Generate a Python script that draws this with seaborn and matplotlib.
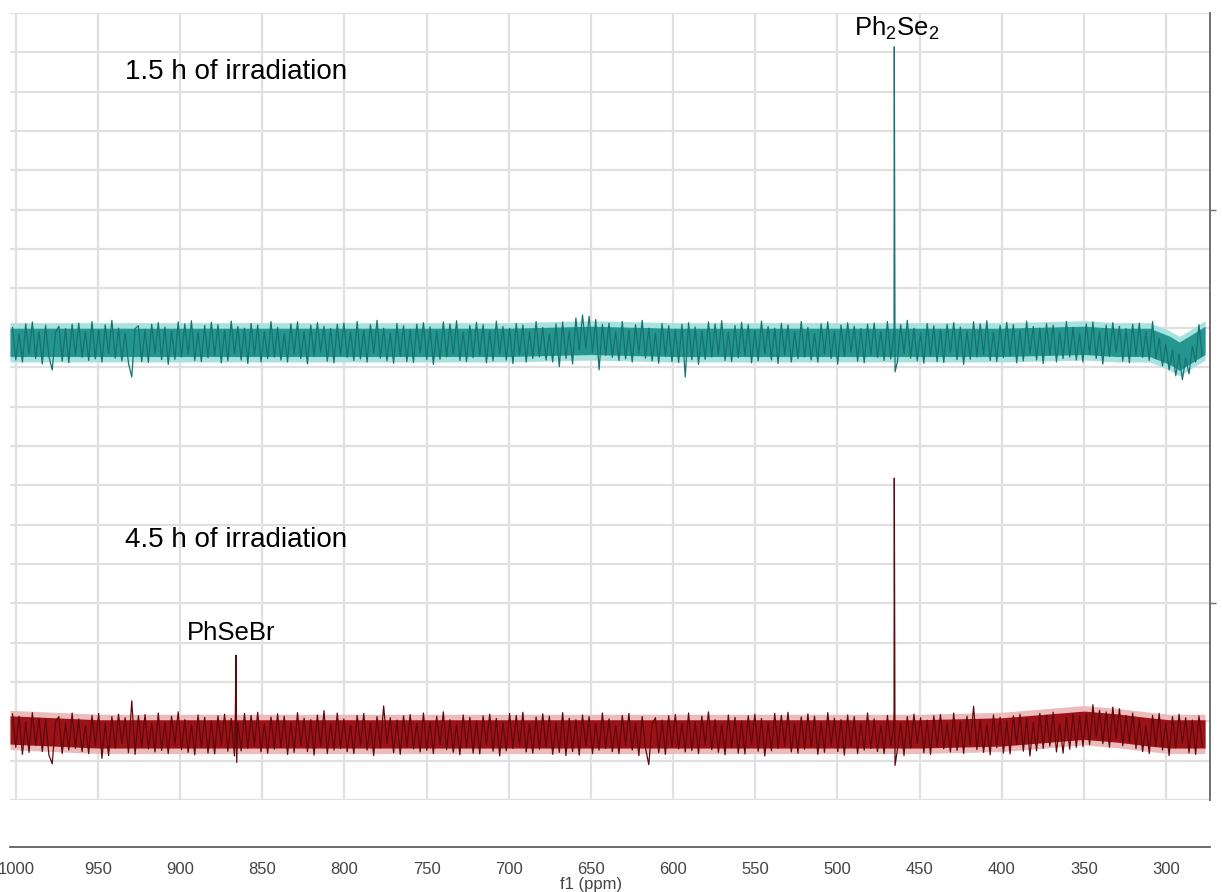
import numpy as np
import pandas as pd
import matplotlib
matplotlib.use("Agg")
import matplotlib.pyplot as plt
import seaborn as sns
from matplotlib.ticker import MultipleLocator

# ---------------- data ----------------
ppm_first, ppm_last = 1002.0, 278.0          # sampled span of both spectra
teal_base = 11.63                            # baseline level, 1.5 h spectrum
red_base = 1.68                              # baseline level, 4.5 h spectrum

# noise excursions around the baseline (hundredths of a grid unit), high ppm -> low ppm
teal_noise = [
    38, -45, 22, -50, 47, -30, 52, -41, 28, -55, 44, -36, -70, 25, 41, -48, 35, -52, 46, -33,
    49, -38, 27, -46, 53, -42, 31, -50, 45, -28, 56, -40, 36, -47, 24, -53, -88, 35, 42, -49,
    33, -51, 46, -27, 50, -44, 39, -56, 29, -43, 52, -37, 47, -31, 55, -46, 26, -49, 43, -39,
    51, -34, 45, -52, 30, -47, 54, -29, 40, -45, 36, -54, 48, -32, 44, -50, 27, -41, 53, -37,
    38, -45, 22, -50, 47, -30, 52, -41, 28, -55, 44, -36, 50, -25, 41, -48, 35, -52, 46, -33,
    49, -38, 27, -46, 53, -42, 31, -50, 45, -28, 56, -40, 36, -47, 24, -53, 48, -35, 42, -49,
    33, -51, 46, -27, 50, -44, 39, -56, 29, -43, 52, -37, 47, -31, 55, -46, 26, -49, 43, -39,
    51, -34, 45, -52, 30, -47, 54, -29, 40, -45, 36, -54, 48, -32, 44, -50, 27, -41, 53, -37,
    38, -45, 22, -50, 47, -62, 52, -41, 28, -55, 62, -20, 70, -15, 66, -25, 58, -70, 46, -33,
    49, -38, 27, -46, 53, -42, 31, -50, 45, -28, 56, -40, 36, -47, 24, -53, 48, -35, 42, -49,
    33, -51, 46, -88, 50, -44, 39, -56, 29, -43, 52, -37, 47, -31, 55, -46, 26, -49, 43, -39,
    51, -34, 45, -52, 30, -47, 54, -29, 40, -45, 36, -54, 48, -32, 44, -50, 27, -41, 53, -37,
    38, -45, 22, -50, 47, -30, 52, -41, 28, -55, 44, -36, 50, -25, 41, -48, 35, -52, 46, -33,
    49, -38, 27, -46, 53, -42, 31, -50, 45, -28, 56, -40, 36, -47, 24, -53, 48, -35, 42, -49,
    33, -51, 46, -27, 50, -44, 39, -56, 29, -43, 52, -37, 47, -31, 55, -46, 26, -49, 43, -39,
    51, -34, 45, -52, 30, -47, 54, -29, 40, -45, 36, -54, 48, -32, 44, -50, 27, -41, 53, -37,
    38, -45, 22, -50, 47, -30, 52, -41, 28, -55, 44, -36, 50, -25, 41, -48, 35, -52, 46, -33,
    49, -38, 27, -46, 53, -42, 10, -60, -5, -70, -20, -85, -30, -95, -40, -80, -10, -50, 45, -35,
]
red_noise = [
    51, -34, 45, -52, 30, -47, 54, -29, 40, -45, 36, -54, -76, 32, 44, -50, 27, -41, 53, -37,
    38, -45, 22, -50, 47, -30, 52, -62, 28, -55, 44, -36, 50, -25, 41, -48, 84, -52, 46, -33,
    49, -38, 27, -46, 53, -42, 31, -50, 45, -28, 56, -40, 36, -47, 24, -53, 48, -35, 42, -49,
    33, -51, 46, -27, 50, -44, 39, -56, 29, -43, 52, -37, 47, -31, 55, -46, 26, -49, 43, -39,
    51, -34, 45, -52, 30, -47, 54, -29, 40, -45, 36, -54, 48, -32, 59, -50, 27, -41, 53, -37,
    38, -45, 22, -50, 47, -30, 52, -41, 28, -55, 44, -36, 71, -25, 41, -48, 35, -52, 46, -33,
    49, -38, 27, -46, 53, -42, 31, -50, 45, -28, 56, -40, 36, -47, 24, -53, 48, -35, 42, -49,
    33, -51, 46, -27, 50, -44, 39, -56, 29, -43, 52, -37, 47, -31, 55, -46, 26, -49, 43, -39,
    51, -34, 45, -52, 30, -47, 54, -55, 40, -45, 36, -54, 48, -32, 44, -50, 27, -41, 53, -37,
    38, -45, 22, -50, 47, -30, 52, -41, 28, -55, 44, -36, -78, 25, 41, -48, 35, -52, 46, -33,
    49, -38, 27, -46, 53, -42, 31, -50, 45, -28, 56, -40, 36, -47, 24, -53, 48, -35, 42, -49,
    33, -51, 46, -27, 50, -44, 39, -56, 29, -43, 52, -37, 47, -31, 55, -46, 26, -49, 43, -39,
    51, -34, 45, -52, 30, -47, 54, -29, 40, -45, 36, -54, 48, -32, 44, -50, 27, -41, 53, -37,
    38, -45, 22, -50, 47, -30, 52, -41, 28, -55, 44, -36, 50, -25, 41, -48, 35, -52, 46, -33,
    49, -38, 27, -46, 53, -42, 31, -50, 45, -28, 70, -40, 36, -47, 24, -53, 48, -35, 42, -49,
    33, -51, 46, -27, 50, -44, 39, -56, 29, -43, 52, -37, 47, -31, 55, -46, 26, -49, 43, -39,
    51, -34, 45, -32, 50, -27, 74, -9, 60, -25, 56, -34, 68, -12, 64, -30, 47, -21, 53, -37,
    38, -45, 22, -50, 47, -30, 52, -41, 28, -55, 44, -36, 50, -25, 41, -48, 35, -52, 46, -33,
]

# sharp resonances: position (ppm), height above baseline, dip right after
teal_peak_ppm = [465.4]
teal_peak_height = [7.51]
teal_peak_dip = [-0.75]
red_peak_ppm = [866.0, 465.4]
red_peak_height = [2.0, 6.50]
red_peak_dip = [-0.73, -0.80]

# dense core of the noise band (centre offset from baseline)
band_ppm = [1003.5, 950, 900, 850, 800, 750, 700, 650, 600, 550, 500, 450, 400, 350, 330, 310, 298, 292, 286, 276.3]
teal_band_center = [0.0, 0.0, 0.0, 0.0, 0.0, 0.0, 0.0, 0.05, 0.0, 0.0, 0.0, 0.0, 0.0, 0.05, 0.0, 0.0, -0.2, -0.35, -0.2, 0.05]
red_band_center = [0.1, 0.0, 0.0, 0.0, 0.0, 0.0, 0.0, 0.0, 0.0, 0.0, 0.0, 0.0, 0.05, 0.22, 0.15, 0.05, 0.0, 0.0, 0.0, 0.0]
band_half = 0.36
halo_half = 0.50

major_ticks = [1000, 950, 900, 850, 800, 750, 700, 650, 600, 550, 500, 450, 400, 350, 300]
tick_labels = ["1000", "950", "900", "850", "800", "750", "700", "650", "600", "550",
               "500", "450", "400", "350", "300"]
right_ticks = [5, 15]

texts = {
    "t1": "1.5 h of irradiation",
    "t2": "4.5 h of irradiation",
    "p1": "Ph$\\mathregular{_2}$Se$\\mathregular{_2}$",
    "p2": "PhSeBr",
    "xl": "f1 (ppm)",
}


def build_trace(noise, base, peaks, heights, dips):
    grid = np.linspace(ppm_first, ppm_last, len(noise))
    xs = list(grid)
    ys = list(base + np.array(noise) / 100.0)
    for p, h, d in zip(peaks, heights, dips):
        xs += [p + 0.45, p, p - 0.45]
        ys += [base + 0.15, base + h, base + d]
    df = pd.DataFrame({"ppm": xs, "intensity": ys}).sort_values("ppm", ascending=False)
    return df.reset_index(drop=True)


teal_df = build_trace(teal_noise, teal_base, teal_peak_ppm, teal_peak_height, teal_peak_dip)
red_df = build_trace(red_noise, red_base, red_peak_ppm, red_peak_height, red_peak_dip)

# ---------------- figure ----------------
sns.set_theme(style="white")
plt.rcParams["font.family"] = ["Liberation Sans", "DejaVu Sans"]

W, H = 1222, 892
fig = plt.figure(figsize=(W / 100, H / 100), dpi=100)
fig.patch.set_facecolor("white")

L, R = 10 / W, 1210 / W
ax = fig.add_axes([L, 1 - 800 / H, R - L, (800 - 13) / H])
ax.set_facecolor("white")
ax.set_xlim(1003.5, 273.3)
ax.set_ylim(0, 20)

# grid
ax.set_xticks(major_ticks)
ax.yaxis.set_major_locator(MultipleLocator(1))
ax.grid(True, which="major", color="#e0e0e0", linewidth=1.6)
ax.tick_params(axis="x", bottom=False, labelbottom=False)
ax.tick_params(axis="y", left=False, labelleft=False)

for s in ["left", "top", "bottom"]:
    ax.spines[s].set_visible(False)
ax.spines["right"].set_color("#707070")
ax.spines["right"].set_linewidth(1.4)

# right-hand ticks
sec = ax.secondary_yaxis("right")
sec.set_yticks(right_ticks)
sec.set_yticklabels(["", ""])
sec.tick_params(length=4, width=1, color="#707070")
sec.spines["right"].set_visible(False)

# noise band halos and cores
tc = teal_base + np.array(teal_band_center)
rc = red_base + np.array(red_band_center)
ax.fill_between(band_ppm, tc - halo_half, tc + halo_half, color="#a8e2df", linewidth=0, zorder=2)
ax.fill_between(band_ppm, rc - halo_half, rc + halo_half, color="#ecbcbc", linewidth=0, zorder=2)
ax.fill_between(band_ppm, tc - band_half, tc + band_half, color="#24958f", linewidth=0, zorder=2)
ax.fill_between(band_ppm, rc - band_half, rc + band_half, color="#9c1217", linewidth=0, zorder=2)

# spectra
sns.lineplot(data=teal_df, x="ppm", y="intensity", sort=False, estimator=None,
             color="#16736f", linewidth=0.9, ax=ax, zorder=3)
sns.lineplot(data=red_df, x="ppm", y="intensity", sort=False, estimator=None,
             color="#5e0a0c", linewidth=0.9, ax=ax, zorder=3)
ax.set_xlabel("")
ax.set_ylabel("")

# annotations
ax.text(933.5, 18.5, texts["t1"], fontsize=20, ha="left", va="center", color="black")
ax.text(933.5, 6.61, texts["t2"], fontsize=20, ha="left", va="center", color="black")
ax.text(463.7, 19.6, texts["p1"], fontsize=18.5, ha="center", va="center", color="black")
ax.text(869.0, 4.24, texts["p2"], fontsize=18.5, ha="center", va="center", color="black")

# separate ppm scale below
scale_font = ["Liberation Sans Narrow", "Liberation Sans", "DejaVu Sans"]
axs = fig.add_axes([L, 1 - 847 / H, R - L, 0.0001])
axs.set_xlim(ax.get_xlim())
axs.set_facecolor("none")
for s in ["left", "top", "right"]:
    axs.spines[s].set_visible(False)
axs.spines["bottom"].set_color("#606060")
axs.spines["bottom"].set_linewidth(1.3)
axs.set_yticks([])
axs.set_xticks(major_ticks)
axs.set_xticklabels(tick_labels, fontsize=12, color="#444444", family=scale_font)
axs.xaxis.set_minor_locator(MultipleLocator(25))
axs.tick_params(axis="x", which="major", direction="out", length=5, width=1,
                color="#606060", pad=6)
axs.tick_params(axis="x", which="minor", direction="out", length=3, width=1,
                color="#606060")
fig.text(591 / W, 1 - 884.5 / H, texts["xl"], fontsize=12, color="#444444",
         ha="center", va="center", family=scale_font)

fig.savefig("out.png", dpi=100, facecolor="white")
